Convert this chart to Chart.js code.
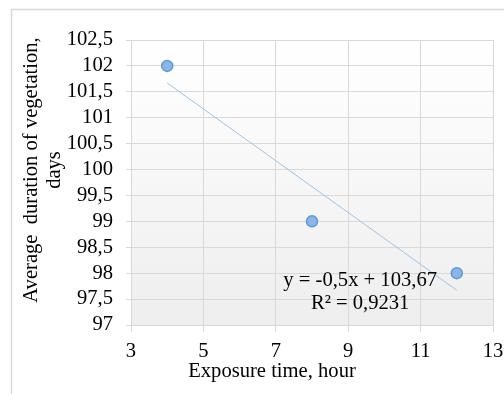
<!DOCTYPE html>
<html>
<head>
<meta charset="utf-8">
<script src="https://cdn.jsdelivr.net/npm/chart.js@4"></script>
<style>
	html, body { margin: 0; padding: 0; background: #fff; overflow: hidden; }
	.div_chart { width: 504px; height: 394px; }
</style>
</head>
<body>
<div class="div_chart"><canvas class="chart" width="504" height="394"></canvas></div>
<script>
// values
const exposureHours = [4, 8, 12];
const vegetationDays = [102, 99, 98];
const trendX = [4, 12];
const trendY = [101.67, 97.67];
const xTicks = [3, 5, 7, 9, 11, 13];
const yTicks = [97, 97.5, 98, 98.5, 99, 99.5, 100, 100.5, 101, 101.5, 102, 102.5];
const equationText = ['y = -0,5x + 103,67', 'R² = 0,9231'];
const xTitle = 'Exposure time, hour';
const yTitle = ['Average  duration of vegetation,', 'days'];

const serif = '"Liberation Serif", "Times New Roman", serif';
const gridColor = '#d9d9d9';

const fmt = (v) => String(v).replace('.', ',');

const extras = {
	id: 'extras',
	beforeDraw: (chart) => {
		const ctx = chart.ctx;
		const a = chart.chartArea;
		ctx.save();
		// outer frame
		ctx.strokeStyle = '#d9d9d9';
		ctx.lineWidth = 1.5;
		ctx.beginPath();
		ctx.moveTo(11.5, 394);
		ctx.lineTo(11.5, 9.5);
		ctx.lineTo(504, 9.5);
		ctx.stroke();
		// plot background gradient
		const grad = ctx.createLinearGradient(0, a.top, 0, a.bottom);
		grad.addColorStop(0, '#ffffff');
		grad.addColorStop(0.2, '#fcfcfc');
		grad.addColorStop(1, '#eeeeee');
		ctx.fillStyle = grad;
		ctx.fillRect(a.left, a.top, a.right - a.left, a.bottom - a.top);
		ctx.restore();
	},
	afterDraw: (chart) => {
		const ctx = chart.ctx;
		const xs = chart.scales.x;
		const ys = chart.scales.y;
		ctx.save();
		ctx.fillStyle = '#000';
		ctx.font = '20.6px ' + serif;
		ctx.textAlign = 'center';
		ctx.textBaseline = 'middle';
		// regression label
		const ex = xs.getPixelForValue(9.33);
		ctx.fillText(equationText[0], ex, ys.getPixelForValue(97.86));
		ctx.fillText(equationText[1], ex, ys.getPixelForValue(97.42));
		// x axis title
		ctx.fillText(xTitle, 272, 372);
		// y axis title
		ctx.translate(32, 170);
		ctx.rotate(-Math.PI / 2);
		ctx.fillText(yTitle[0], 0, 0);
		ctx.fillText(yTitle[1], 0, 23);
		ctx.restore();
	},
};

const ctx = document.querySelector('.chart');
new Chart(ctx, {
	type: 'scatter',
	data: {
		datasets: [
			{
				label: 'points',
				data: exposureHours.map((x, i) => ({ x: x, y: vegetationDays[i] })),
				pointRadius: 5.5,
				pointBackgroundColor: '#8db4e6',
				pointBorderColor: '#5b9bd5',
				pointBorderWidth: 1.5,
				order: 1,
			},
			{
				label: 'trend',
				type: 'line',
				data: trendX.map((x, i) => ({ x: x, y: trendY[i] })),
				borderColor: '#9dc3e6',
				borderWidth: 1,
				pointRadius: 0,
				fill: false,
				order: 2,
			},
		],
	},
	options: {
		responsive: false,
		animation: false,
		devicePixelRatio: 1,
		layout: { padding: { top: 40, right: 11, left: 0, bottom: 0 } },
		plugins: { legend: { display: false }, tooltip: { enabled: false } },
		scales: {
			x: {
				type: 'linear',
				min: 3,
				max: 13,
				afterBuildTicks: (scale) => { scale.ticks = xTicks.map((v) => ({ value: v })); },
				afterFit: (scale) => {
					scale.height = 69;
					scale.paddingLeft = 0;
					scale.paddingRight = 0;
				},
				grid: { color: gridColor, tickLength: 7, tickColor: gridColor },
				border: { color: gridColor },
				ticks: { color: '#000', font: { family: serif, size: 20.6 }, padding: 7, autoSkip: false, maxRotation: 0, callback: (v) => fmt(v) },
			},
			y: {
				type: 'linear',
				min: 97,
				max: 102.5,
				afterBuildTicks: (scale) => { scale.ticks = yTicks.map((v) => ({ value: v })); },
				afterFit: (scale) => {
					scale.width = 131;
					scale.paddingTop = 0;
					scale.paddingBottom = 0;
				},
				grid: { color: gridColor, tickLength: 5, tickColor: gridColor },
				border: { color: gridColor },
				ticks: { color: '#000', font: { family: serif, size: 20.6 }, padding: 13, autoSkip: false, callback: (v) => fmt(v) },
			},
		},
	},
	plugins: [extras],
});
</script>
</body>
</html>
